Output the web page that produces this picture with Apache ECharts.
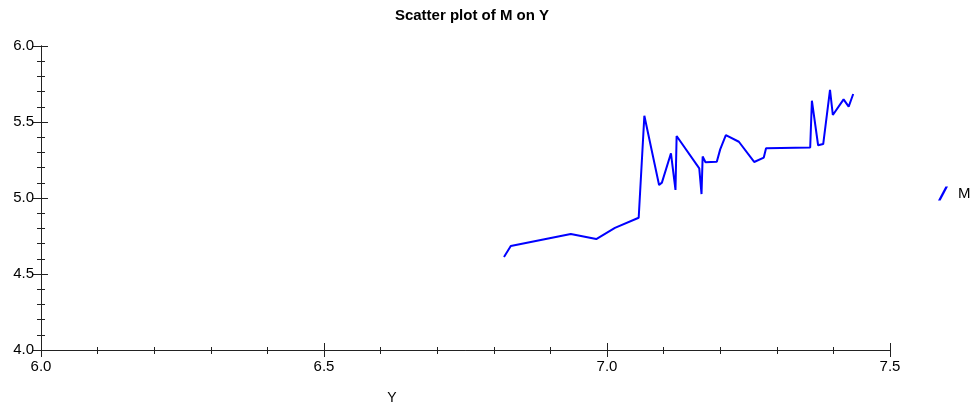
<!DOCTYPE html>
<html>
<head>
<meta charset="utf-8">
<script src="https://cdn.jsdelivr.net/npm/echarts@6/dist/echarts.min.js"></script>
<style>
  html, body { margin: 0; padding: 0; background: #fff; }
  #chart { width: 976px; height: 409px; }
</style>
</head>
<body>
<div id="chart"></div>
<script>
// values
const yValues = [6.818, 6.830, 6.936, 6.981, 7.014, 7.056, 7.066, 7.092, 7.097, 7.113,
  7.121, 7.123, 7.163, 7.167, 7.169, 7.174, 7.194, 7.200, 7.210, 7.233,
  7.260, 7.277, 7.281, 7.359, 7.362, 7.373, 7.382, 7.394, 7.399, 7.418,
  7.427, 7.435];
const mValues = [4.612, 4.684, 4.763, 4.730, 4.803, 4.870, 5.541, 5.086, 5.101, 5.294,
  5.053, 5.408, 5.195, 5.026, 5.273, 5.235, 5.239, 5.320, 5.414, 5.370,
  5.237, 5.266, 5.328, 5.332, 5.640, 5.347, 5.355, 5.711, 5.546, 5.649,
  5.601, 5.684];
const xTicks = ['6.0', '6.5', '7.0', '7.5'];
const yTicks = ['4.0', '4.5', '5.0', '5.5', '6.0'];

const font = '"Liberation Sans", Arial, sans-serif';
const axisColor = '#222';

const chart = echarts.init(document.getElementById('chart'));

const baseX = {
  type: 'value', min: 6.0, max: 7.5, interval: 0.5,
  axisLine: { show: true, lineStyle: { color: axisColor, width: 1 } },
  splitLine: { show: false },
  minorSplitLine: { show: false },
};
const baseY = {
  type: 'value', min: 4.0, max: 6.0, interval: 0.5,
  axisLine: { show: true, lineStyle: { color: axisColor, width: 1 } },
  splitLine: { show: false },
  minorSplitLine: { show: false },
};

const option = {
  animation: false,
  backgroundColor: '#fff',
  textStyle: { fontFamily: font },
  title: [
    {
      text: 'Scatter plot of M on Y',
      left: 467, top: 3, textAlign: 'center',
      textStyle: { fontSize: 15, fontWeight: 'bold', color: '#000', fontFamily: font },
    },
    {
      text: 'Y',
      left: 387, top: 386, textAlign: 'center',
      textStyle: { fontSize: 14, fontWeight: 'normal', color: '#000', fontFamily: font },
    },
  ],
  legend: {
    data: ['M'],
    left: 933, top: 181,
    orient: 'vertical',
    itemWidth: 12, itemHeight: 14, itemGap: 6,
    icon: 'path://M0,14 L2.6,14 L10,0 L7.4,0 Z',
    textStyle: { fontSize: 15, color: '#000', fontFamily: font, padding: [0, 0, 0, 4] },
  },
  grid: { left: 41, right: 86, top: 46, bottom: 59 },
  xAxis: [
    Object.assign({}, baseX, {
      position: 'bottom',
      axisTick: { show: true, inside: false, length: 7, lineStyle: { color: axisColor } },
      minorTick: { show: true, splitNumber: 5, length: 4, lineStyle: { color: axisColor } },
      axisLabel: {
        color: '#000', fontSize: 15, margin: 9, fontFamily: font,
        formatter: (v) => xTicks.find((t) => Math.abs(parseFloat(t) - v) < 1e-6) || '',
      },
    }),
    Object.assign({}, baseX, {
      position: 'bottom',
      axisTick: { show: true, inside: true, length: 7, lineStyle: { color: axisColor } },
      minorTick: { show: true, splitNumber: 5, length: 3, lineStyle: { color: axisColor } },
      axisLabel: { show: false },
    }),
  ],
  yAxis: [
    Object.assign({}, baseY, {
      position: 'left',
      axisTick: { show: true, inside: false, length: 8, lineStyle: { color: axisColor } },
      minorTick: { show: true, splitNumber: 5, length: 4, lineStyle: { color: axisColor } },
      axisLabel: {
        color: '#000', fontSize: 15, margin: 7, fontFamily: font,
        formatter: (v) => yTicks.find((t) => Math.abs(parseFloat(t) - v) < 1e-6) || '',
      },
    }),
    Object.assign({}, baseY, {
      position: 'left',
      axisTick: { show: true, inside: true, length: 7, lineStyle: { color: axisColor } },
      minorTick: { show: true, splitNumber: 5, length: 4, lineStyle: { color: axisColor } },
      axisLabel: { show: false },
    }),
  ],
  series: [
    {
      name: 'M',
      type: 'line',
      xAxisIndex: 0,
      yAxisIndex: 0,
      showSymbol: false,
      symbol: 'none',
      color: '#0000ff',
      lineStyle: { color: '#0000ff', width: 2 },
      data: yValues.map((x, i) => [x, mValues[i]]),
    },
  ],
};

chart.setOption(option);
</script>
</body>
</html>
